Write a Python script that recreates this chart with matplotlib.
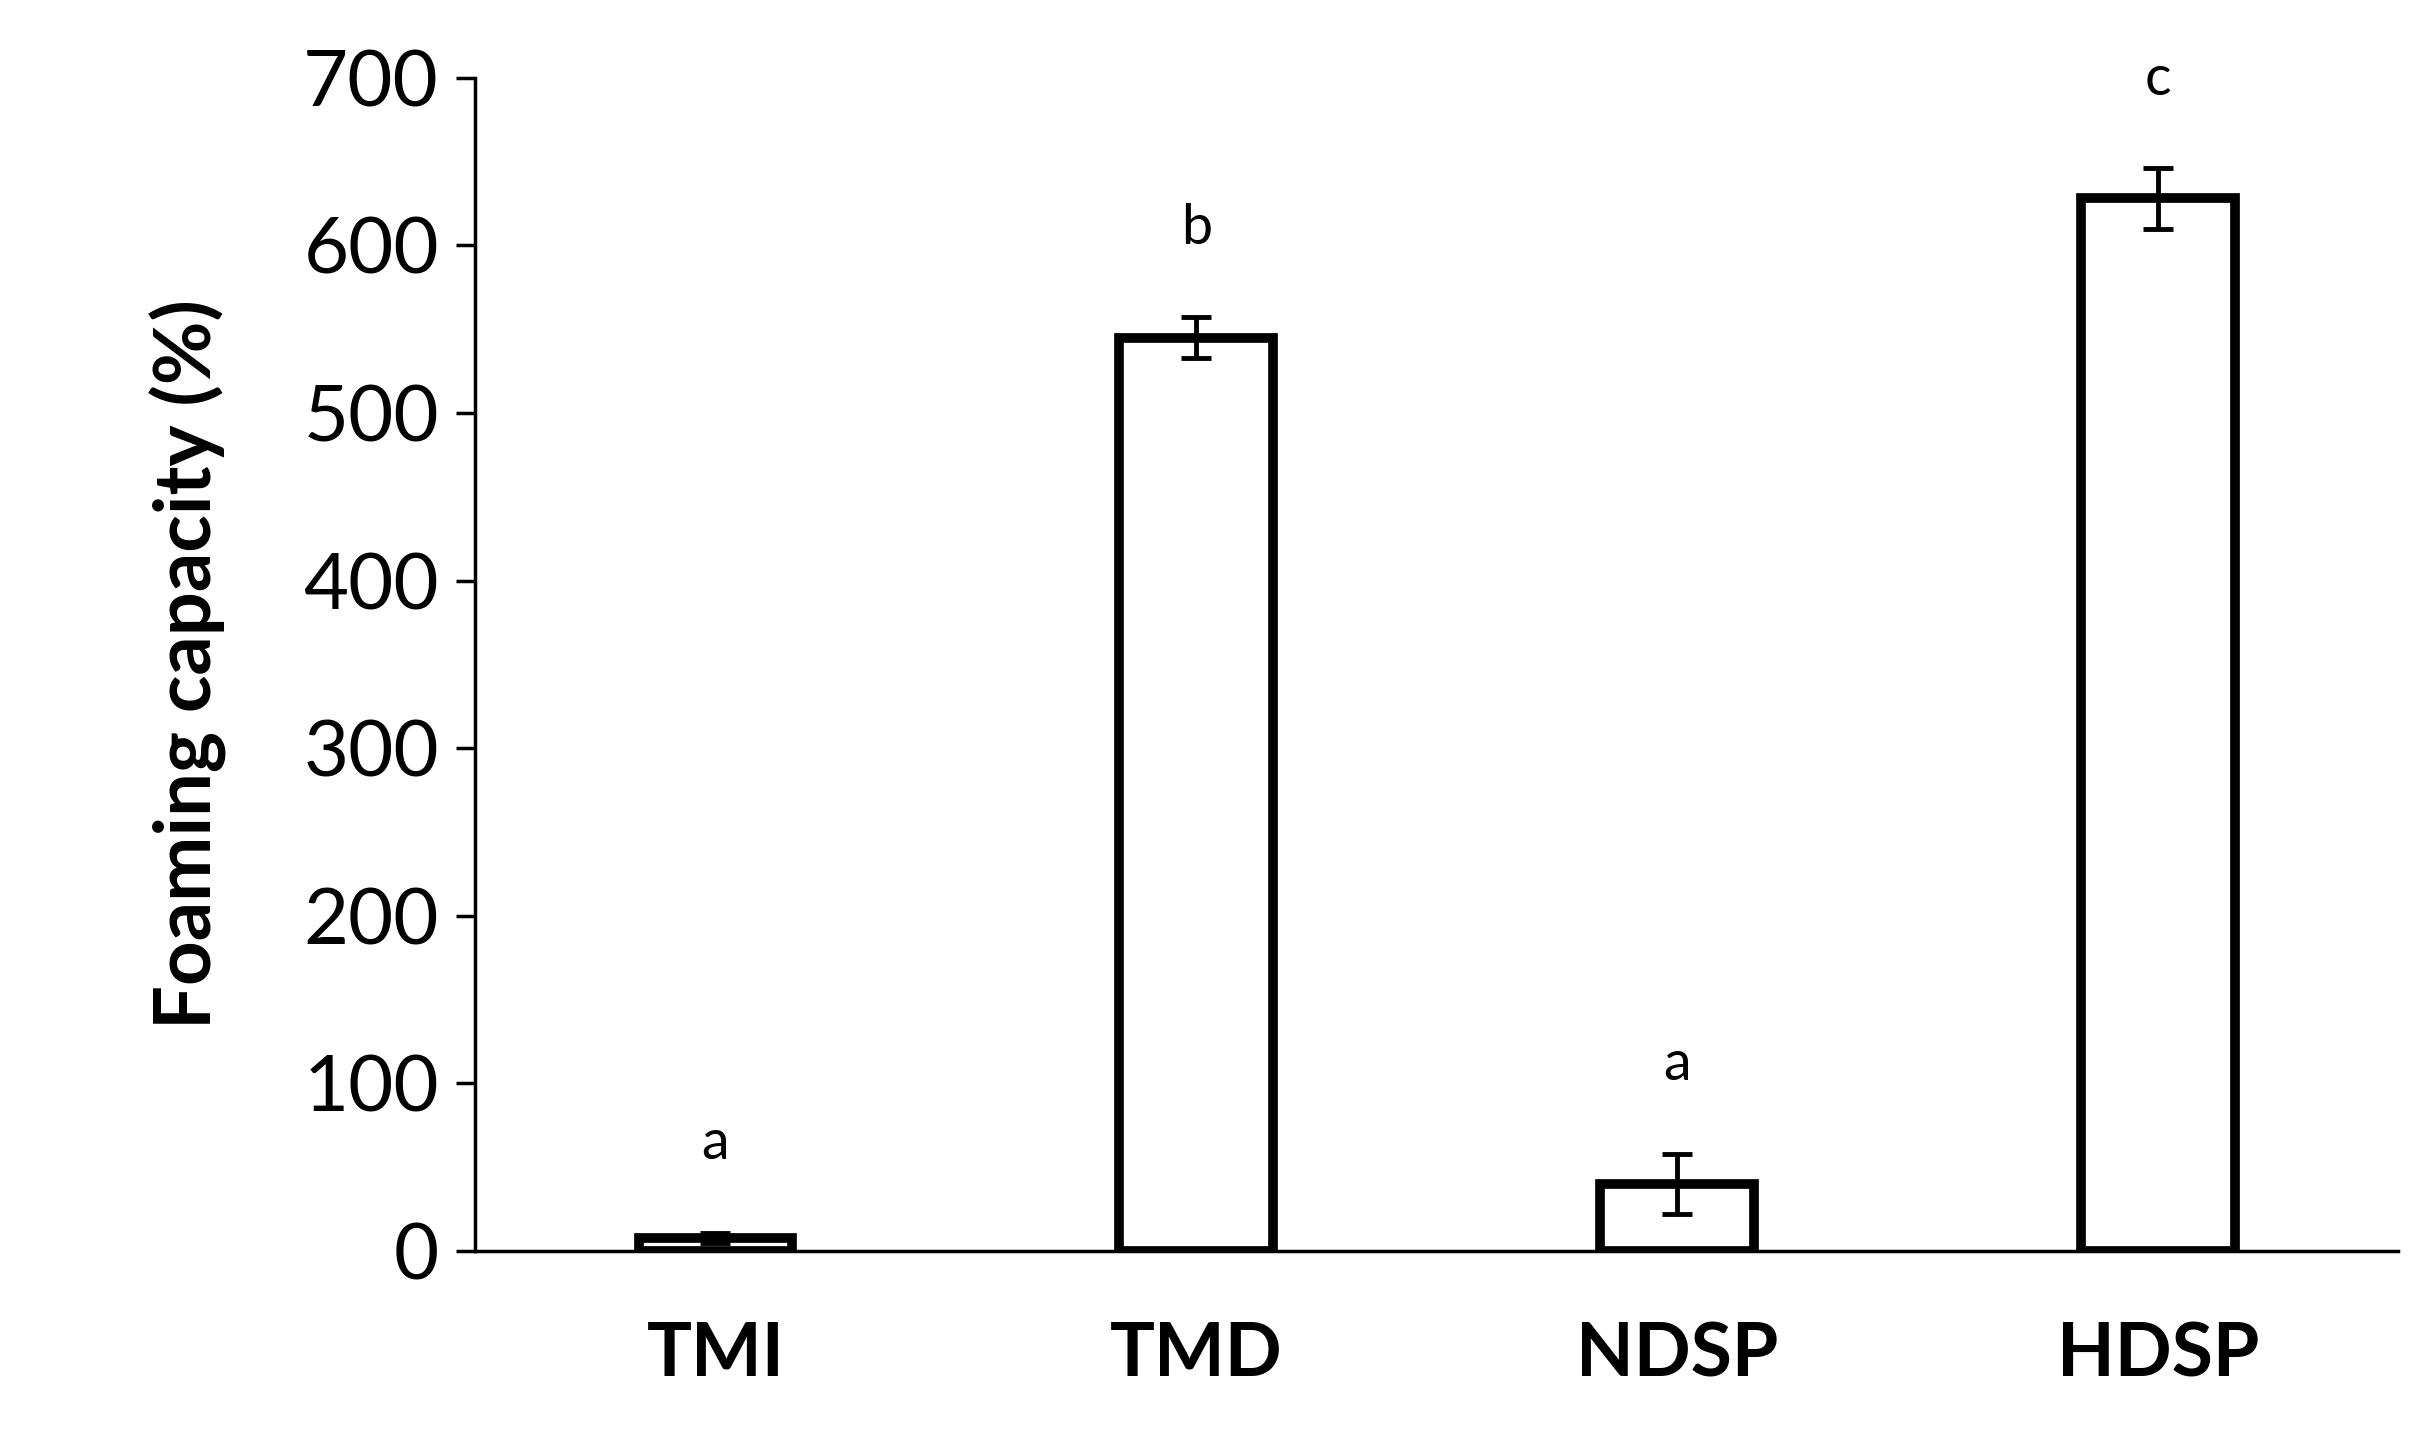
import matplotlib.pyplot as plt

categories = ['TMI', 'TMD', 'NDSP', 'HDSP']
values = [8, 545, 40, 628]
errors = [3, 12, 18, 18]
letters = ['a', 'b', 'a', 'c']

plt.rcParams['font.family'] = ['Lato', 'DejaVu Sans']

fig = plt.figure(figsize=(24.3, 14.53), dpi=100)
ax = fig.add_axes([0.1955, 0.139, 0.7915, 0.8075])

x = range(len(categories))
ax.bar(x, values, width=0.32, color='white', edgecolor='black', linewidth=7,
       yerr=errors, error_kw=dict(ecolor='black', elinewidth=3.5, capsize=11, capthick=3.5))
for i, (v, e, t) in enumerate(zip(values, errors, letters)):
    ax.text(i, v + e + 38, t, ha='center', va='bottom', fontsize=40)

ax.set_xlim(-0.5, 3.5)
ax.set_ylim(0, 700)
ax.set_yticks(range(0, 701, 100))
ax.set_xticks(list(x))
ax.set_xticklabels(categories, fontsize=54, fontweight='bold')
ax.tick_params(axis='x', length=0, pad=50)
ax.tick_params(axis='y', labelsize=56, width=2.5, length=14, pad=12, direction='out')
ax.spines['top'].set_visible(False)
ax.spines['right'].set_visible(False)
ax.spines['left'].set_linewidth(2.5)
ax.spines['bottom'].set_linewidth(2.5)
ax.set_ylabel('Foaming capacity (%)', fontsize=56, fontweight='bold', labelpad=55)

fig.savefig('out.png', dpi=100)
